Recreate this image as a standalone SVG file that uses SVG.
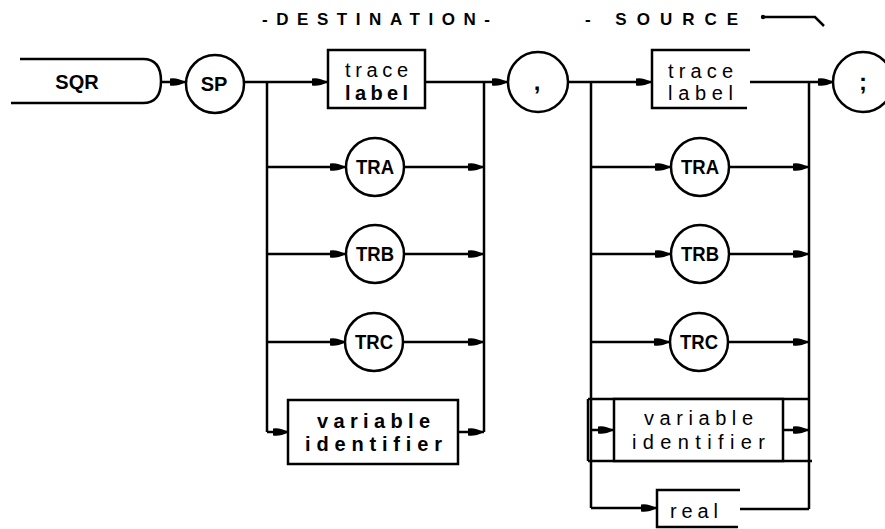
<svg xmlns="http://www.w3.org/2000/svg" width="885" height="529" viewBox="0 0 885 529">
<defs>
<marker id="ah" markerUnits="userSpaceOnUse" markerWidth="18" markerHeight="10" refX="16" refY="5" orient="auto">
<path d="M0,1.5 Q6,0 16,5 Q6,10 0,8.5 z" fill="#000"/>
</marker>
<style>
.ln{fill:none;stroke:#000;stroke-width:2.5}
.bx{fill:#fff;stroke:#000;stroke-width:2.5}
.a{marker-end:url(#ah)}
.kw{font-family:"Liberation Sans",Arial,sans-serif;font-weight:bold;font-size:20px;text-anchor:middle;fill:#000}
.pn{font-family:"Liberation Sans",Arial,sans-serif;font-weight:bold;font-size:24px;text-anchor:middle;fill:#000}
.lb{font-family:"Liberation Sans",Arial,sans-serif;font-size:20px;fill:#000}
.hd{font-family:"Liberation Sans",Arial,sans-serif;font-weight:bold;font-size:17px;fill:#000}
</style>
</defs>
<rect width="885" height="529" fill="#fff"/>

<g id="headings">
<text class="hd" x="262" y="25" textLength="228" lengthAdjust="spacing">-DESTINATION-</text>
<text class="hd" x="585" y="25" textLength="153" lengthAdjust="spacing">- SOURCE</text>
<circle cx="763" cy="17" r="2.2" fill="#000"/>
<path class="ln" d="M763,17 H815 L824,26"/>
</g>

<g id="connectors">
<line class="ln a" x1="161" y1="82" x2="186" y2="82"/>
<line class="ln a" x1="244" y1="82" x2="328" y2="82"/>
<line class="ln" x1="267" y1="82" x2="267" y2="432"/>
<line class="ln a" x1="425" y1="82" x2="508" y2="82"/>
<line class="ln" x1="484" y1="82" x2="484" y2="432"/>
<line class="ln a" x1="267" y1="167" x2="346" y2="167"/>
<line class="ln a" x1="404" y1="167" x2="484" y2="167"/>
<line class="ln a" x1="267" y1="254" x2="346" y2="254"/>
<line class="ln a" x1="404" y1="254" x2="484" y2="254"/>
<line class="ln a" x1="267" y1="342" x2="346" y2="342"/>
<line class="ln a" x1="403" y1="342" x2="484" y2="342"/>
<line class="ln a" x1="267" y1="432" x2="289" y2="432"/>
<line class="ln a" x1="458" y1="432" x2="484" y2="432"/>
<line class="ln a" x1="568" y1="82" x2="652" y2="82"/>
<line class="ln" x1="591" y1="82" x2="591" y2="508"/>
<line class="ln a" x1="750" y1="82" x2="834" y2="82"/>
<line class="ln" x1="809" y1="82" x2="809" y2="509"/>
<line class="ln a" x1="591" y1="167" x2="671" y2="167"/>
<line class="ln a" x1="729" y1="167" x2="809" y2="167"/>
<line class="ln a" x1="591" y1="254" x2="671" y2="254"/>
<line class="ln a" x1="729" y1="254" x2="809" y2="254"/>
<line class="ln a" x1="591" y1="342" x2="670" y2="342"/>
<line class="ln a" x1="728" y1="342" x2="809" y2="342"/>
<line class="ln a" x1="591" y1="430" x2="614" y2="430"/>
<line class="ln a" x1="783" y1="430" x2="809" y2="430"/>
<line class="ln a" x1="591" y1="508" x2="657" y2="508"/>
<path class="ln" d="M740,509 H809"/>
</g>

<g id="sqr">
<path class="ln" d="M20,59 H143 Q161,59 161,81 Q161,103 143,103 H11"/>
<text class="kw" x="77" y="89">SQR</text>
</g>

<g id="sp">
<circle class="bx" cx="215" cy="84" r="29"/>
<text class="kw" x="214" y="91">SP</text>
</g>

<g id="dest-trace-label">
<rect class="bx" x="328" y="50" width="97" height="58"/>
<text class="lb" x="345" y="77" textLength="63" lengthAdjust="spacing">trace</text>
<text class="lb" x="345" y="100" textLength="63" lengthAdjust="spacing" font-weight="bold">label</text>
</g>

<g id="dest-tra">
<circle class="bx" cx="375" cy="167" r="29"/>
<text class="kw" x="375" y="174" textLength="38" lengthAdjust="spacingAndGlyphs">TRA</text>
</g>
<g id="dest-trb">
<circle class="bx" cx="375" cy="254" r="29"/>
<text class="kw" x="375" y="261" textLength="38" lengthAdjust="spacingAndGlyphs">TRB</text>
</g>
<g id="dest-trc">
<circle class="bx" cx="374" cy="342" r="29"/>
<text class="kw" x="374" y="349" textLength="38" lengthAdjust="spacingAndGlyphs">TRC</text>
</g>

<g id="dest-variable-identifier">
<rect class="bx" x="288" y="400" width="170" height="64"/>
<text class="lb" x="317" y="428" textLength="113" lengthAdjust="spacing" font-weight="bold">variable</text>
<text class="lb" x="305" y="451" textLength="137" lengthAdjust="spacing" font-weight="bold">identifier</text>
</g>

<g id="comma">
<circle class="bx" cx="538" cy="82" r="30"/>
<text class="pn" x="537" y="90">,</text>
</g>

<g id="src-trace-label">
<path class="ln" d="M750,50 H652 V108 H747"/>
<text class="lb" x="668" y="78" textLength="65" lengthAdjust="spacing">trace</text>
<text class="lb" x="668" y="100" textLength="65" lengthAdjust="spacing">label</text>
</g>

<g id="src-tra">
<circle class="bx" cx="700" cy="167" r="29"/>
<text class="kw" x="700" y="174" textLength="38" lengthAdjust="spacingAndGlyphs">TRA</text>
</g>
<g id="src-trb">
<circle class="bx" cx="700" cy="254" r="29"/>
<text class="kw" x="700" y="261" textLength="38" lengthAdjust="spacingAndGlyphs">TRB</text>
</g>
<g id="src-trc">
<circle class="bx" cx="699" cy="342" r="29"/>
<text class="kw" x="699" y="349" textLength="38" lengthAdjust="spacingAndGlyphs">TRC</text>
</g>

<g id="src-variable-identifier">
<path class="ln" d="M588,399 H810 M588,461 H812 M588,399 V461"/>
<rect class="bx" x="614" y="399" width="169" height="62"/>
<text class="lb" x="644" y="425" textLength="109" lengthAdjust="spacing">variable</text>
<text class="lb" x="632" y="449" textLength="133" lengthAdjust="spacing">identifier</text>
</g>

<g id="real">
<path class="ln" d="M740,490 H657 V527 H738"/>
<text class="lb" x="670" y="518" textLength="48" lengthAdjust="spacing">real</text>
</g>

<g id="semicolon">
<circle class="bx" cx="863" cy="82" r="30"/>
<text class="pn" x="863" y="90">;</text>
</g>
</svg>
